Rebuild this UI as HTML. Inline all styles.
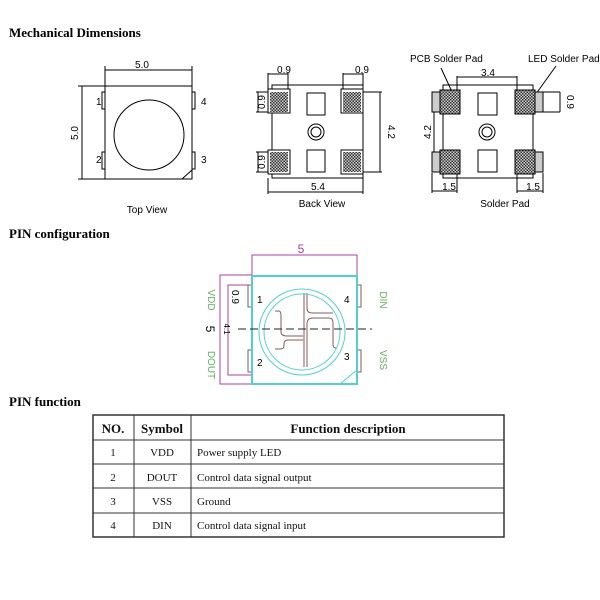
<!DOCTYPE html><html><head><style>body{margin:0;background:#fff}svg{display:block}</style></head><body>
<svg width="600" height="600" xmlns="http://www.w3.org/2000/svg" font-family="Liberation Sans, sans-serif">
<defs><pattern id="h" width="3" height="3" patternUnits="userSpaceOnUse"><rect width="3" height="3" fill="#ccc"/><rect width="1.5" height="1.5" fill="#333"/><rect x="1.5" y="1.5" width="1.5" height="1.5" fill="#333"/></pattern></defs>
<g font-family="Liberation Serif, serif" font-weight="bold" font-size="13">
<text x="9" y="37">Mechanical  Dimensions</text>
<text x="9" y="238">PIN  configuration</text>
<text x="9" y="406">PIN function</text></g>
<g stroke="#000" fill="none" stroke-width="1">
<rect x="105" y="86" width="87" height="93"/>
<circle cx="149" cy="135" r="35"/>
<rect x="102" y="92" width="3" height="17"/><rect x="102" y="152" width="3" height="17"/>
<rect x="192" y="92" width="3" height="17"/><rect x="192" y="152" width="3" height="17"/>
<line x1="182" y1="179" x2="192" y2="170"/>
<line x1="105" y1="70" x2="192" y2="70"/><line x1="105" y1="66" x2="105" y2="86"/><line x1="192" y1="66" x2="192" y2="86"/>
<line x1="82" y1="86" x2="82" y2="179"/><line x1="78" y1="86" x2="105" y2="86"/><line x1="78" y1="179" x2="105" y2="179"/>
<rect x="272" y="85" width="91" height="93"/>
<rect x="307" y="93" width="18" height="22"/><rect x="307" y="150" width="18" height="22"/>
<circle cx="316" cy="132" r="8"/><circle cx="316" cy="132" r="5"/>
<line x1="268" y1="73" x2="268" y2="89"/><line x1="288" y1="73" x2="288" y2="89"/><line x1="268" y1="74" x2="288" y2="74"/>
<line x1="343" y1="73" x2="343" y2="89"/><line x1="363" y1="73" x2="363" y2="89"/><line x1="343" y1="74" x2="363" y2="74"/>
<line x1="256" y1="92" x2="268" y2="92"/><line x1="256" y1="112" x2="268" y2="112"/><line x1="258" y1="92" x2="258" y2="112"/>
<line x1="256" y1="152" x2="268" y2="152"/><line x1="256" y1="172" x2="268" y2="172"/><line x1="258" y1="152" x2="258" y2="172"/>
<line x1="363" y1="92" x2="382" y2="92"/><line x1="363" y1="172" x2="382" y2="172"/><line x1="380" y1="92" x2="380" y2="172"/>
<line x1="268" y1="178" x2="268" y2="194"/><line x1="363" y1="178" x2="363" y2="194"/><line x1="268" y1="192" x2="363" y2="192"/>
<rect x="443" y="85" width="90" height="93"/>
<rect x="478" y="93" width="19" height="22"/><rect x="478" y="150" width="19" height="22"/>
<circle cx="487" cy="132" r="8"/><circle cx="487" cy="132" r="5"/>
<line x1="457" y1="76" x2="457" y2="90"/><line x1="517" y1="76" x2="517" y2="90"/><line x1="457" y1="77" x2="517" y2="77"/>
<line x1="432" y1="92" x2="450" y2="92"/><line x1="432" y1="172" x2="450" y2="172"/><line x1="434" y1="92" x2="434" y2="172"/>
<line x1="543" y1="92" x2="560" y2="92"/><line x1="543" y1="112" x2="560" y2="112"/><line x1="560" y1="92" x2="560" y2="112"/>
<line x1="432" y1="173" x2="432" y2="193"/><line x1="457" y1="173" x2="457" y2="193"/><line x1="432" y1="191" x2="457" y2="191"/>
<line x1="517" y1="173" x2="517" y2="193"/><line x1="543" y1="173" x2="543" y2="193"/><line x1="517" y1="191" x2="543" y2="191"/>
<line x1="441" y1="68" x2="453" y2="94"/><line x1="556" y1="66" x2="533" y2="98"/>
</g>
<g stroke="#000" stroke-width="1">
<g fill="#fff"><rect x="268" y="89" width="22" height="24"/><rect x="341" y="89" width="22" height="24"/><rect x="268" y="150" width="22" height="24"/><rect x="341" y="150" width="22" height="24"/></g>
<g fill="url(#h)" stroke="none"><rect x="270" y="92" width="18" height="20"/><rect x="343" y="92" width="18" height="20"/><rect x="270" y="152" width="18" height="20"/><rect x="343" y="152" width="18" height="20"/></g>
<g fill="#ccc"><rect x="432" y="92" width="25" height="20"/><rect x="517" y="92" width="26" height="20"/><rect x="432" y="152" width="25" height="20"/><rect x="517" y="152" width="26" height="20"/></g>
<g fill="url(#h)"><rect x="440" y="90" width="20" height="24"/><rect x="515" y="90" width="20" height="24"/><rect x="440" y="150" width="20" height="24"/><rect x="515" y="150" width="20" height="24"/></g>
</g>
<g font-size="10" fill="#000">
<text x="142" y="68" text-anchor="middle">5.0</text>
<text x="78" y="133" transform="rotate(-90 78 133)" text-anchor="middle">5.0</text>
<text x="96" y="105">1</text><text x="96" y="163">2</text><text x="201" y="105">4</text><text x="201" y="163">3</text>
<text x="147" y="213" text-anchor="middle">Top View</text>
<text x="284" y="73" text-anchor="middle">0.9</text><text x="362" y="73" text-anchor="middle">0.9</text>
<text x="265" y="102" transform="rotate(-90 265 102)" text-anchor="middle">0.9</text>
<text x="265" y="162" transform="rotate(-90 265 162)" text-anchor="middle">0.9</text>
<text x="388" y="132" transform="rotate(90 388 132)" text-anchor="middle">4.2</text>
<text x="318" y="190" text-anchor="middle">5.4</text>
<text x="322" y="207" text-anchor="middle">Back View</text>
<text x="410" y="62">PCB Solder Pad</text><text x="528" y="62">LED Solder Pad</text>
<text x="488" y="76" text-anchor="middle">3.4</text>
<text x="431" y="132" transform="rotate(-90 431 132)" text-anchor="middle">4.2</text>
<text x="567" y="102" transform="rotate(90 567 102)" text-anchor="middle">0.9</text>
<text x="456" y="190" text-anchor="end">1.5</text><text x="540" y="190" text-anchor="end">1.5</text>
<text x="505" y="207" text-anchor="middle">Solder Pad</text>
</g>
<g fill="none" stroke-width="1">
<g stroke="#b040a0"><polyline points="252,276 252,255 357,255 357,276"/><polyline points="252,275 220,275 220,384 252,384"/><polyline points="252,285 228,285 228,375 252,375"/></g>
<g stroke="#8a5a5a"><rect x="248" y="285" width="4" height="22"/><rect x="248" y="350" width="4" height="22"/><rect x="357" y="285" width="4" height="22"/><rect x="357" y="350" width="4" height="22"/>
<path d="M304,293 V367 M307,293 V308 Q307,313 312,313 H333 M307,367 V324 Q307,318 313,318 H329 Q333,318 333,323 V345 Q333,348 336,348 M275,311 H279 Q281,311 281,316 V332 Q281,336 287,336 H303 M303,340 H288 Q284,340 284,344 V346 Q284,349 280,349 H275"/></g>
<g stroke="#50d0d0"><rect x="252" y="276" width="105" height="108" stroke-width="2"/><circle cx="302" cy="332" r="43"/><circle cx="302" cy="332" r="38"/><line x1="340" y1="384" x2="357" y2="370"/></g>
<line x1="238" y1="329" x2="372" y2="329" stroke="#222" stroke-dasharray="8,4"/>
</g>
<g font-size="10">
<text x="301" y="253" text-anchor="middle" fill="#a04090" font-size="12">5</text>
<text x="206" y="329" transform="rotate(90 206 329)" text-anchor="middle" fill="#000" font-size="12">5</text>
<text x="224" y="329" transform="rotate(90 224 329)" text-anchor="middle" font-size="8">4.1</text>
<text x="232" y="297" transform="rotate(90 232 297)" text-anchor="middle">0.9</text>
<text x="257" y="303">1</text><text x="257" y="366">2</text><text x="344" y="303">4</text><text x="344" y="360">3</text>
<g fill="#60b060"><text x="208" y="300" transform="rotate(90 208 300)" text-anchor="middle">VDD</text>
<text x="208" y="365" transform="rotate(90 208 365)" text-anchor="middle">DOUT</text>
<text x="380" y="300" transform="rotate(90 380 300)" text-anchor="middle">DIN</text>
<text x="380" y="360" transform="rotate(90 380 360)" text-anchor="middle">VSS</text></g>
</g>
<g stroke="#333" stroke-width="1" fill="none">
<rect x="93" y="415" width="411" height="122" stroke-width="1.5"/>
<line x1="93" y1="440" x2="504" y2="440"/><line x1="93" y1="464" x2="504" y2="464"/><line x1="93" y1="488" x2="504" y2="488"/><line x1="93" y1="513" x2="504" y2="513"/>
<line x1="134" y1="415" x2="134" y2="537"/><line x1="191" y1="415" x2="191" y2="537"/>
</g>
<g font-family="Liberation Serif, serif" font-size="11" fill="#111">
<g font-weight="bold" font-size="13"><text x="113" y="433" text-anchor="middle">NO.</text><text x="162" y="433" text-anchor="middle">Symbol</text><text x="348" y="433" text-anchor="middle">Function description</text></g>
<text x="113" y="456" text-anchor="middle">1</text><text x="162" y="456" text-anchor="middle">VDD</text><text x="197" y="456">Power supply LED</text>
<text x="113" y="481" text-anchor="middle">2</text><text x="162" y="481" text-anchor="middle">DOUT</text><text x="197" y="481">Control data signal output</text>
<text x="113" y="505" text-anchor="middle">3</text><text x="162" y="505" text-anchor="middle">VSS</text><text x="197" y="505">Ground</text>
<text x="113" y="529" text-anchor="middle">4</text><text x="162" y="529" text-anchor="middle">DIN</text><text x="197" y="529">Control data signal input</text>
</g>
</svg></body></html>
